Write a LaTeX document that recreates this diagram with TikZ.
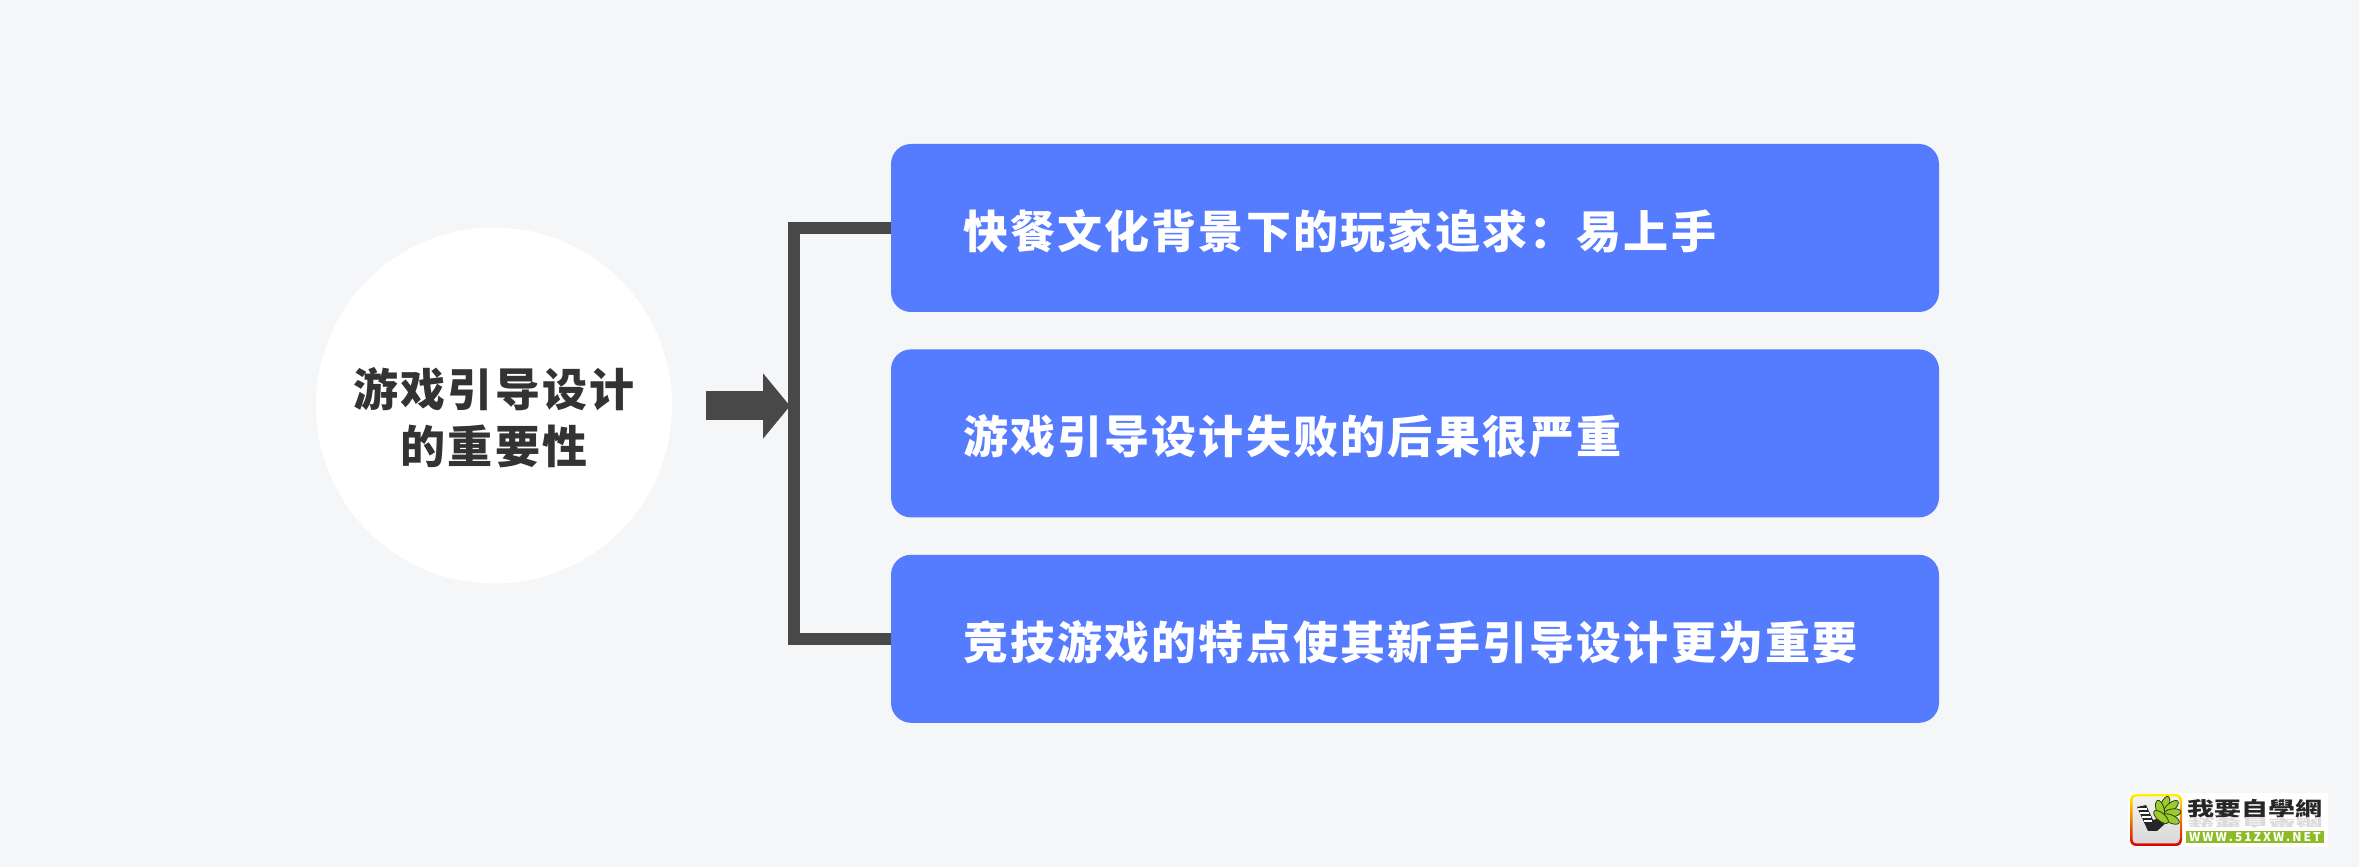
\documentclass[tikz,border=0pt]{standalone}
\usepackage{fontspec}
\usepackage{xcolor}
\usetikzlibrary{arrows.meta, positioning, shapes.geometric}

\setmainfont{Noto Sans CJK SC}
\newfontfamily\cjkspaced[LetterSpace=4.9]{Noto Sans CJK SC}
\newfontfamily\logotc{Noto Sans CJK TC}
\newcommand{\widecolon}{\char"FF1A\relax}

\definecolor{pagebg}{HTML}{F4F6F8}
\definecolor{boxblue}{HTML}{557BFF}
\definecolor{darkline}{HTML}{484848}
\definecolor{darktext}{HTML}{333333}
\definecolor{logogreen}{HTML}{8DBB25}
\definecolor{leafgreen}{HTML}{9CCB2E}

\begin{document}
\begin{tikzpicture}[
  x=1pt, y=1pt,
  node distance=37pt and 37pt,
  topicbox/.style={circle, fill=white, minimum size=356pt, inner sep=0pt,
             align=center, text=darktext, text height=122pt, text depth=5pt,
             font=\fontsize{45}{57}\cjkspaced\bfseries},
  itembox/.style={rectangle, fill=boxblue, rounded corners=20pt,
             minimum width=1048pt, minimum height=168pt, inner sep=0pt,
             text width=904pt, align=left, text=white, text height=46pt, text depth=5pt,
             font=\fontsize{45}{52}\cjkspaced\bfseries},
  bracket/.style={draw=darkline, line width=12pt, line join=miter},
  arrow/.style={-{Triangle[length=27pt, width=64pt]}, draw=darkline, line width=29pt},
  leaf/.style={ellipse, fill=leafgreen, draw=black!70!leafgreen, line width=0.8pt,
             minimum width=18pt, minimum height=8pt, inner sep=0pt},
  logoword/.style={font=\fontsize{20}{20}\logotc\bfseries, inner sep=0pt, transform shape}
]

\fill[pagebg] (0,0) rectangle (2359,867);
\useasboundingbox (0,0) rectangle (2359,867);

% left topic and the three items
\node[topicbox] (topic) at (494,461.5) {游戏引导设计\\的重要性};
\node[itembox] (fast) at (1415,639) {快餐文化背景下的玩家追求\widecolon 易上手};
\node[itembox, below=of fast] (fail) {游戏引导设计失败的后果很严重};
\node[itembox, below=of fail] (esport) {竞技游戏的特点使其新手引导设计更为重要};

\coordinate (arrowstart) at (706,461);
\coordinate (spine) at (794,461);
\coordinate (arrowend) at (790,461);

\draw[bracket] (fast.west) -| (spine) |- (esport.west);
\draw[arrow] (arrowstart) -- (arrowend);

% logo, lower right
\node[fill=white, minimum width=200pt, minimum height=54pt, inner sep=0pt] (logobg) at (2228,47) {};
\node[rectangle, rounded corners=6pt, minimum width=52pt, minimum height=52pt, inner sep=0pt,
      top color=yellow!90!orange, bottom color=red!85!black] (logoframe) at (2156,47) {};
\node[rectangle, rounded corners=4pt, minimum width=47pt, minimum height=47pt, inner sep=0pt,
      top color=black!5, bottom color=black!15] (logoinner) at (logoframe) {};
\fill[black!85] (2137,60) -- (2146,62) -- (2153,47) -- (2160,49) -- (2167,45) -- (2157,36) -- (2148,36) -- cycle;
\foreach \lx/\rx/\ly in {2138/2147/58, 2140/2149/54, 2142/2150.5/50, 2144/2152/46}
  \draw[white, line width=1.4pt] (\lx,\ly) -- (\rx,\ly);
\foreach \a/\px/\py in {70/2165/62, 40/2171/60, 10/2172/54, -25/2171/48, 105/2160/58, 140/2161/50}
  \node[leaf, rotate=\a] at (\px,\py) {};
\node[logoword, text=black!85, xscale=1.35] (logotext) at (2255,58) {我要自學網};
\node[logoword, text=black!14, xscale=1.35, yscale=-0.55] (logoecho) at (2255,44) {我要自學網};
\node[fill=logogreen, minimum width=138pt, minimum height=12pt, inner sep=0pt,
      font=\fontsize{12}{12}\bfseries, text=white] (logobar) at (2255,30) {W\,W\,W\,.\,5\,1\,Z\,X\,W\,.\,N\,E\,T};

\end{tikzpicture}
\end{document}
